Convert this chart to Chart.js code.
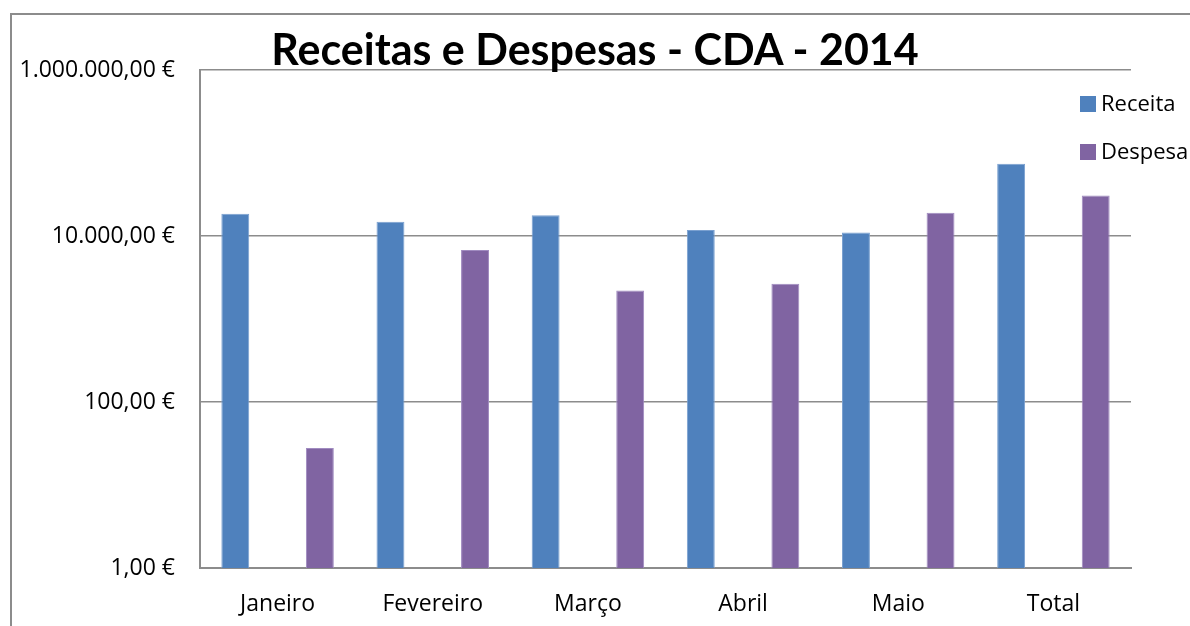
<!DOCTYPE html>
<html>
<head>
<meta charset="utf-8">
<script src="https://cdn.jsdelivr.net/npm/chart.js@4.4.1/dist/chart.umd.min.js"></script>
<style>
  html, body { margin: 0; padding: 0; background: #fff; }
  #wrap { position: relative; width: 1190px; height: 626px; overflow: hidden; font-family: "Open Sans", Lato, sans-serif; }
  #frame { position: absolute; left: 10px; top: 13px; width: 1200px; height: 640px; border: 2px solid #8c8c8c; box-sizing: border-box; }
  #title { position: absolute; left: 0; width: 1190px; top: 25px; text-align: center; font-family: Lato, sans-serif; font-size: 43px; font-weight: 700; color: #000; line-height: 48px; }
  .leg { position: absolute; left: 1080px; font-size: 22px; color: #000; line-height: 26px; white-space: nowrap; }
  .leg span { display: inline-block; width: 16px; height: 16px; margin-right: 5px; vertical-align: -1px; }
  canvas { position: absolute; left: 0; top: 0; }
</style>
</head>
<body>
<div id="wrap">
  <div id="frame"></div>
  <canvas id="chart" width="1190" height="626"></canvas>
  <div id="title">Receitas e Despesas - CDA - 2014</div>
  <div class="leg" style="top:89px"><span style="background:#4f81bd"></span>Receita</div>
  <div class="leg" style="top:137px"><span style="background:#8064a2"></span>Despesa</div>
</div>
<script>
const months = ['Janeiro', 'Fevereiro', 'Março', 'Abril', 'Maio', 'Total'];
const receita = [18600, 14900, 17800, 11800, 11000, 74100];
const despesa = [28, 6800, 2200, 2650, 19000, 30700];
const yTicks = [1, 100, 10000, 1000000];

// 1234567 -> "1.234.567,00 €"
function euro(n) {
  const parts = Number(n).toFixed(2).split('.');
  const int = parts[0].replace(/\B(?=(\d{3})+(?!\d))/g, '.');
  return int + ',' + parts[1] + ' €';
}

const axisGray = '#8c8c8c';
const labelFont = { family: '"Open Sans", Lato, sans-serif', size: 23 };

new Chart(document.getElementById('chart'), {
  type: 'bar',
  data: {
    labels: months,
    datasets: [
      { label: 'Receita', data: receita, backgroundColor: '#4f81bd', borderColor: '#7aa0d0', borderWidth: 1, categoryPercentage: 1.09, barPercentage: 0.33 },
      { label: 'Despesa', data: despesa, backgroundColor: '#8064a2', borderColor: '#a08bc0', borderWidth: 1, categoryPercentage: 1.09, barPercentage: 0.33 }
    ]
  },
  options: {
    responsive: false,
    animation: false,
    layout: { padding: { left: 10, right: 59, top: 70, bottom: 0 } },
    plugins: { legend: { display: false }, tooltip: { enabled: false } },
    scales: {
      x: {
        grid: { display: false, drawTicks: false },
        border: { color: axisGray, width: 2 },
        ticks: { color: '#000', font: labelFont, padding: 23, maxRotation: 0 },
        afterFit: s => { s.height = 58; }
      },
      y: {
        type: 'logarithmic',
        min: 1,
        max: 1000000,
        afterBuildTicks: s => { s.ticks = yTicks.map(v => ({ value: v })); },
        afterFit: s => { s.width = 190; },
        grid: { color: axisGray, lineWidth: 1.5, drawTicks: false },
        border: { color: axisGray, width: 2 },
        ticks: { color: '#000', font: labelFont, padding: 25, callback: v => euro(v) }
      }
    }
  }
});
</script>
</body>
</html>
